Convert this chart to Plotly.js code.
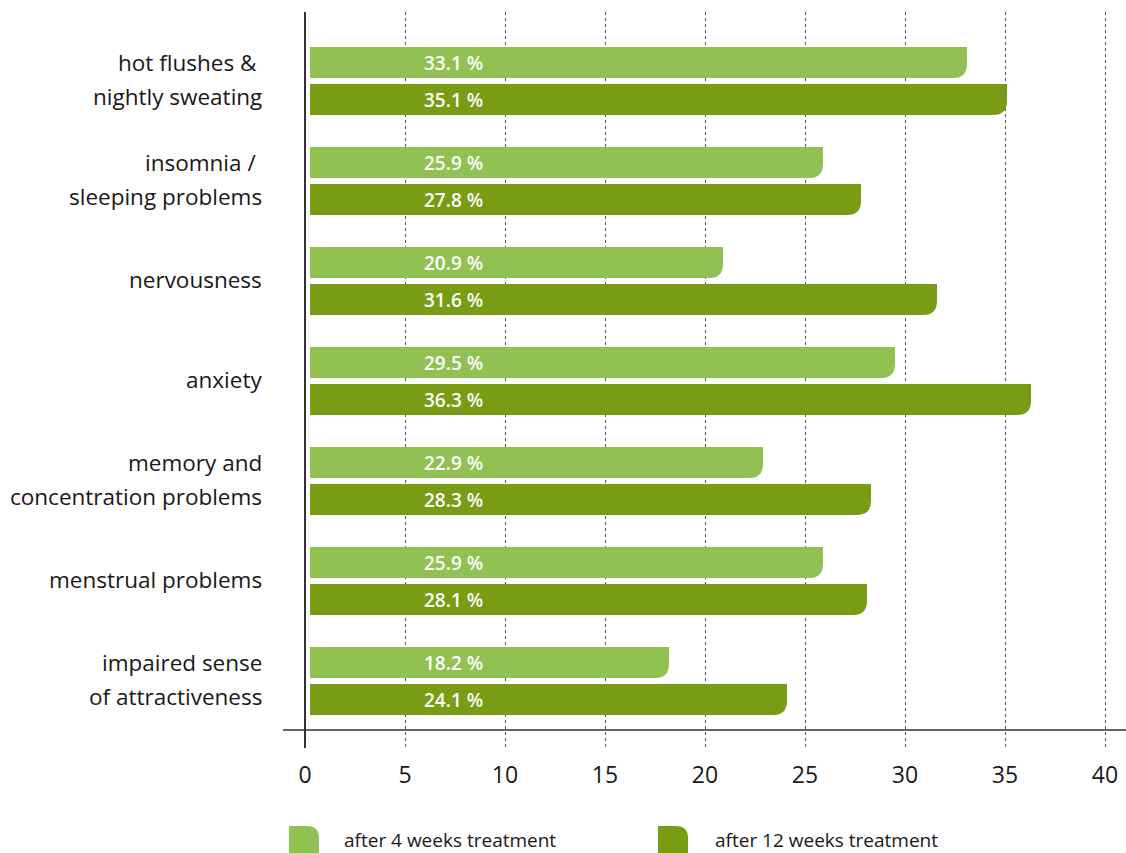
<!DOCTYPE html>
<html>
<head>
<meta charset="utf-8">
<script src="https://cdn.plot.ly/plotly-3.0.1.min.js"></script>
<style>html,body{margin:0;padding:0;background:#fff;}#chart{width:1126px;height:853px;}</style>
</head>
<body>
<div id="chart"></div>
<script>
const categories = [
  "hot flushes &\u00a0\nnightly sweating",
  "insomnia /\u00a0\nsleeping problems",
  "nervousness",
  "anxiety",
  "memory and\nconcentration problems",
  "menstrual problems",
  "impaired sense\nof attractiveness"
];
const after4 = [33.1, 25.9, 20.9, 29.5, 22.9, 25.9, 18.2];
const after12 = [35.1, 27.8, 31.6, 36.3, 28.3, 28.1, 24.1];
const seriesNames = ["after 4 weeks treatment", "after 12 weeks treatment"];
const xTicks = [0, 5, 10, 15, 20, 25, 30, 35, 40];

const W = 1126, H = 853, ML = 305, MR = 0, MT = 12, MB = 105;
const PW = W - ML - MR, PH = H - MT - MB;
const LIGHT = "#92c153", DARK = "#789d14";
const FONT = "Open Sans, Noto Sans, sans-serif";

const cats = categories.map((c, i) => "c" + i);

const traces = [
  {type: "bar", orientation: "h", y: cats, x: after4, name: seriesNames[0],
   marker: {color: LIGHT}, hoverinfo: "skip"},
  {type: "bar", orientation: "h", y: cats, x: after12, name: seriesNames[1],
   marker: {color: DARK}, hoverinfo: "skip"}
];

const px2x = px => (px - ML) / PW;
const px2y = py => (H - MB - py) / PH;

const annotations = [];
// category labels
categories.forEach((c, i) => {
  const lines = c.split("\n");
  const spacing = 34;
  lines.forEach((ln, j) => {
    const off = (j - (lines.length - 1) / 2) * spacing;
    annotations.push({
      xref: "paper", yref: "y", x: 0, y: cats[i], xanchor: "right", yanchor: "middle",
      xshift: -41, yshift: -off + 2, text: ln, showarrow: false,
      font: {family: FONT, size: 22.5, color: "#1a1718"}
    });
  });
});
// value labels
[after4, after12].forEach((arr, s) => {
  arr.forEach((v, i) => {
    annotations.push({
      xref: "x", yref: "y", x: 7.4, y: cats[i], xanchor: "center", yanchor: "middle",
      yshift: s === 0 ? 18.5 : -18.5, text: v.toFixed(1) + " %", showarrow: false,
      font: {family: FONT, size: 19, color: "#ffffff", weight: 600}
    });
  });
});
// legend labels
const legendItems = [{x0: 289, tx: 342, color: LIGHT}, {x0: 658, tx: 713, color: DARK}];
legendItems.forEach((it, k) => {
  annotations.push({
    xref: "paper", yref: "paper", x: px2x(it.tx), y: px2y(840), xanchor: "left", yanchor: "middle",
    text: seriesNames[k], showarrow: false,
    font: {family: FONT, size: 19, color: "#1a1718"}
  });
});

const shapes = [
  // x-axis line
  {type: "line", xref: "paper", yref: "paper", x0: px2x(283), x1: 1, y0: px2y(730), y1: px2y(730),
   line: {color: "#333", width: 1.3}}
];
legendItems.forEach(it => {
  const x0 = px2x(it.x0), x1 = px2x(it.x0 + 30), xr = px2x(it.x0 + 30 - 12);
  const y0 = px2y(826), yr = px2y(826 + 12), y1 = px2y(860);
  shapes.push({type: "path", xref: "paper", yref: "paper",
    path: `M${x0},${y1} L${x0},${y0} L${xr},${y0} Q${x1},${y0} ${x1},${yr} L${x1},${y1} Z`,
    fillcolor: it.color, line: {width: 0}});
});

const layout = {
  width: W, height: H,
  margin: {l: ML, r: MR, t: MT, b: MB, pad: 0},
  paper_bgcolor: "#fff", plot_bgcolor: "#fff",
  barmode: "group", bargap: 0.26, bargroupgap: 0.162,
  showlegend: false,
  font: {family: FONT, color: "#1a1718"},
  xaxis: {
    range: [0, 41.05], tickvals: xTicks, ticktext: xTicks.map(String),
    showgrid: true, gridcolor: "#555", griddash: "3px,3px", gridwidth: 1,
    zeroline: true, zerolinecolor: "#333", zerolinewidth: 1.3,
    showline: false, ticks: "", ticklabelstandoff: 11,
    tickfont: {family: FONT, size: 23, color: "#1a1718"}
  },
  yaxis: {
    type: "category", range: [6.67, -0.69], autorange: false,
    showticklabels: false, showgrid: false, zeroline: false, showline: false, ticks: ""
  },
  annotations: annotations,
  shapes: shapes
};

Plotly.newPlot("chart", traces, layout, {staticPlot: true}).then(gd => {
  const paths = gd.querySelectorAll(".trace.bars .point path");
  paths.forEach(p => {
    const b = p.getBBox();
    if (b.width <= 0) return;
    const x0 = b.x + 5, x1 = b.x + b.width, y0 = b.y, y1 = b.y + b.height;
    const r = Math.min(14, b.height / 2);
    p.setAttribute("d", `M${x0},${y0}H${x1}V${y1 - r}Q${x1},${y1} ${x1 - r},${y1}H${x0}Z`);
  });
});
</script>
</body>
</html>
